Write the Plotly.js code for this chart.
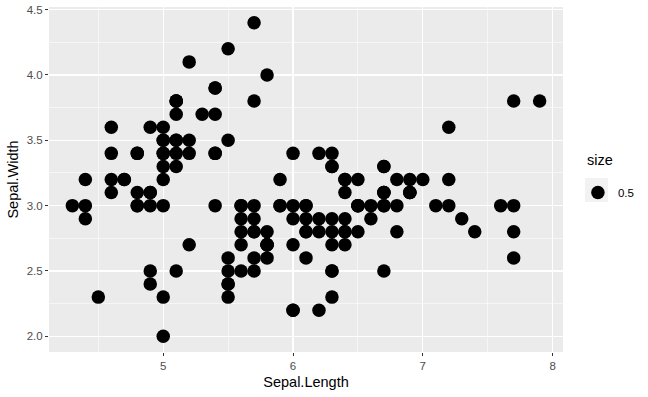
<!DOCTYPE html>
<html><head><meta charset="utf-8">
<script src="https://cdn.plot.ly/plotly-3.0.1.min.js"></script>
<style>body{margin:0;background:#fff}#plot{width:648px;height:397px}</style>
</head><body><div id="plot"></div>
<script>
const sepalLength = [5.1,4.9,4.7,4.6,5.0,5.4,4.6,5.0,4.4,4.9,5.4,4.8,4.8,4.3,5.8,5.7,5.4,5.1,5.7,5.1,5.4,5.1,4.6,5.1,4.8,5.0,5.0,5.2,5.2,4.7,4.8,5.4,5.2,5.5,4.9,5.0,5.5,4.9,4.4,5.1,5.0,4.5,4.4,5.0,5.1,4.8,5.1,4.6,5.3,5.0,
7.0,6.4,6.9,5.5,6.5,5.7,6.3,4.9,6.6,5.2,5.0,5.9,6.0,6.1,5.6,6.7,5.6,5.8,6.2,5.6,5.9,6.1,6.3,6.1,6.4,6.6,6.8,6.7,6.0,5.7,5.5,5.5,5.8,6.0,5.4,6.0,6.7,6.3,5.6,5.5,5.5,6.1,5.8,5.0,5.6,5.7,5.7,6.2,5.1,5.7,
6.3,5.8,7.1,6.3,6.5,7.6,4.9,7.3,6.7,7.2,6.5,6.4,6.8,5.7,5.8,6.4,6.5,7.7,7.7,6.0,6.9,5.6,7.7,6.3,6.7,7.2,6.2,6.1,6.4,7.2,7.4,7.9,6.4,6.3,6.1,7.7,6.3,6.4,6.0,6.9,6.7,6.9,5.8,6.8,6.7,6.7,6.3,6.5,6.2,5.9];
const sepalWidth = [3.5,3.0,3.2,3.1,3.6,3.9,3.4,3.4,2.9,3.1,3.7,3.4,3.0,3.0,4.0,4.4,3.9,3.5,3.8,3.8,3.4,3.7,3.6,3.3,3.4,3.0,3.4,3.5,3.4,3.2,3.1,3.4,4.1,4.2,3.1,3.2,3.5,3.6,3.0,3.4,3.5,2.3,3.2,3.5,3.8,3.0,3.8,3.2,3.7,3.3,
3.2,3.2,3.1,2.3,2.8,2.8,3.3,2.4,2.9,2.7,2.0,3.0,2.2,2.9,2.9,3.1,3.0,2.7,2.2,2.5,3.2,2.8,2.5,2.8,2.9,3.0,2.8,3.0,2.9,2.6,2.4,2.4,2.7,2.7,3.0,3.4,3.1,2.3,3.0,2.5,2.6,3.0,2.6,2.3,2.7,3.0,2.9,2.9,2.5,2.8,
3.3,2.7,3.0,2.9,3.0,3.0,2.5,2.9,2.5,3.6,3.2,2.7,3.0,2.5,2.8,3.2,3.0,3.8,2.6,2.2,3.2,2.8,2.8,2.7,3.3,3.2,2.8,3.0,2.8,3.0,2.8,3.8,2.8,2.8,2.6,3.0,3.4,3.1,3.0,3.1,3.1,3.1,2.7,3.2,3.3,3.0,2.5,3.0,3.4,3.0];
const xTicks = [5, 6, 7, 8];
const yTicks = [2.0, 2.5, 3.0, 3.5, 4.0, 4.5];
const legendTitle = 'size';
const legendLabel = '0.5';

const fam = 'Liberation Sans, Arial, sans-serif';
const tickFont = {family: fam, size: 11.5, color: '#4D4D4D'};
const titleFont = {family: fam, size: 14.5, color: '#000000'};

const trace = {
  x: sepalLength, y: sepalWidth, type: 'scatter', mode: 'markers',
  name: legendLabel, showlegend: true,
  marker: {color: '#000000', size: 13.5, line: {width: 0}},
  hoverinfo: 'none'
};

const xMin = Math.min(...sepalLength), xMax = Math.max(...sepalLength);
const yMin = Math.min(...sepalWidth), yMax = Math.max(...sepalWidth);
const xPad = (xMax - xMin) * 0.05, yPad = (yMax - yMin) * 0.05;

const layout = {
  width: 648, height: 397,
  margin: {l: 49, r: 85, t: 7, b: 45},
  paper_bgcolor: '#FFFFFF', plot_bgcolor: '#EBEBEB',
  font: {family: fam},
  xaxis: {
    range: [xMin - xPad, xMax + xPad],
    tickvals: xTicks, ticktext: xTicks.map(String),
    ticks: 'outside', ticklen: 3, tickwidth: 1, tickcolor: '#333333',
    tickfont: tickFont, gridcolor: '#FFFFFF', gridwidth: 1.1,
    minor: {tickvals: [4.5, 5.5, 6.5, 7.5], showgrid: true, gridcolor: '#FFFFFF', gridwidth: 0.55, ticks: ''},
    zeroline: false, showline: false,
    title: {text: 'Sepal.Length', font: titleFont, standoff: 6}
  },
  yaxis: {
    range: [yMin - yPad, yMax + yPad],
    tickvals: yTicks, ticktext: yTicks.map(v => v.toFixed(1)),
    ticks: 'outside', ticklen: 3, tickwidth: 1, tickcolor: '#333333',
    tickfont: tickFont, gridcolor: '#FFFFFF', gridwidth: 1.1,
    minor: {tickvals: [2.25, 2.75, 3.25, 3.75, 4.25], showgrid: true, gridcolor: '#FFFFFF', gridwidth: 0.55, ticks: ''},
    zeroline: false, showline: false,
    title: {text: 'Sepal.Width', font: titleFont, standoff: 4}
  },
  showlegend: true,
  legend: {
    x: 1.029, y: 0.5044, xanchor: 'left', yanchor: 'top',
    bgcolor: 'rgba(0,0,0,0)',
    font: {family: fam, size: 11.5, color: '#000'},
    itemwidth: 30
  },
  annotations: [{
    text: legendTitle, xref: 'paper', yref: 'paper', x: 1.0427, y: 0.5565,
    xanchor: 'left', yanchor: 'middle', showarrow: false,
    font: {family: fam, size: 14.5, color: '#000'}
  }],
  shapes: [{
    type: 'rect', xref: 'paper', yref: 'paper',
    x0: 1.0427, x1: 1.0874, y0: 0.4348, y1: 0.5043,
    fillcolor: '#F2F2F2', line: {width: 0}, layer: 'below'
  }]
};

Plotly.newPlot('plot', [trace], layout, {displayModeBar: false, staticPlot: true});
</script></body></html>
